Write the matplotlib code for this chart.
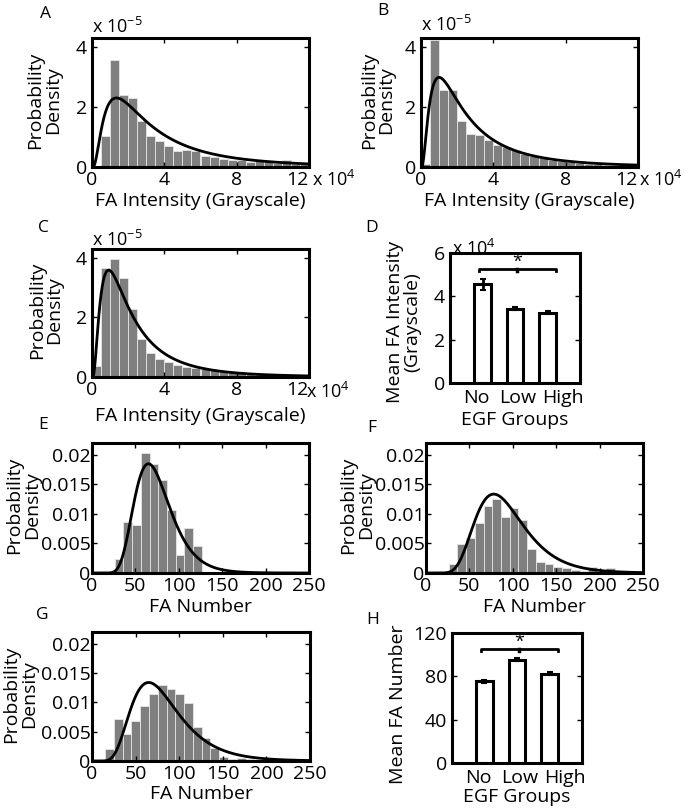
import numpy as np
import matplotlib
matplotlib.use('Agg')
import matplotlib.pyplot as plt
from matplotlib.transforms import ScaledTranslation

plt.rcParams['font.family'] = ['Open Sans', 'DejaVu Sans']
plt.rcParams['font.size'] = 14
plt.rcParams['mathtext.fontset'] = 'custom'
plt.rcParams['mathtext.rm'] = 'Open Sans'
plt.rcParams['mathtext.default'] = 'regular'

W, H = 685, 810

# FA intensity histograms: x in units of 1e4 grayscale, density in units of 1e-5
int_bin_start = 0.0
int_bin_width = 0.5
dens_a = [0, 1.02, 3.58, 2.41, 2.29, 1.53, 1.02, 0.86, 0.69, 0.55, 0.58, 0.52,
          0.38, 0.33, 0.28, 0.25, 0.22, 0.18, 0.25, 0.20, 0.14, 0.22, 0.11, 0.14]
dens_b = [0.10, 4.24, 2.56, 2.56, 1.53, 1.11, 1.06, 0.91, 0.74, 0.67, 0.56, 0.42,
          0.36, 0.30, 0.24, 0.20, 0.16, 0.13, 0.11, 0.09, 0.08, 0.07, 0.07, 0.06]
dens_c = [0.36, 3.66, 3.98, 3.32, 2.30, 1.29, 0.81, 0.59, 0.50, 0.40, 0.34, 0.30,
          0.26, 0.23, 0.19, 0.16, 0.14, 0.11, 0.10, 0.08, 0.07, 0.06, 0.05, 0.05]

# FA number histograms
num_bin_width = 10.07
num_start_e = 26.0
num_start_f = 26.0
num_start_g = 15.0
dens_e = [0.0023, 0.0086, 0.0082, 0.0203, 0.0185, 0.0158, 0.0106, 0.0030, 0.0077, 0.0045]
dens_f = [0.0015, 0.0049, 0.0059, 0.0084, 0.0114, 0.0125, 0.0094, 0.0110, 0.0090, 0.0040,
          0.0018, 0.0016, 0.0011, 0.0008, 0.0005, 0.0003, 0.0010, 0.0002, 0.0009]
dens_g = [0.0020, 0.0071, 0.0046, 0.0069, 0.0093, 0.0115, 0.0130, 0.0122, 0.0114, 0.0099,
          0.0058, 0.0039, 0.0022, 0.0006, 0.0004, 0.0005, 0.0003]

# lognormal fits (mu, sigma) in the plotted x units
fit_a = (1.066, 0.875)
fit_b = (0.801, 0.895)
fit_c = (0.631, 0.845)
fit_e = (4.274, 0.316)
fit_f = (4.486, 0.359)
fit_g = (4.350, 0.420)

# group means
egf_groups = ['No', 'Low', 'High']
mean_intensity = [4.55, 3.43, 3.25]   # x 1e4
sem_intensity = [0.25, 0.07, 0.07]
mean_number = [75.5, 95.5, 82.5]
sem_number = [1.5, 1.8, 1.5]

BAR_GRAY = '#7f7f7f'


def lognorm_pdf(x, mu, s):
    return np.exp(-(np.log(x) - mu) ** 2 / (2 * s ** 2)) / (x * s * np.sqrt(2 * np.pi))


fig = plt.figure(figsize=(W / 100, H / 100), dpi=100)


def px_axes(x0, y0, x1, y1):
    return fig.add_axes([x0 / W, 1 - y1 / H, (x1 - x0) / W, (y1 - y0) / H])


def style(ax, ypad=3.5):
    for sp in ax.spines.values():
        sp.set_linewidth(2.2)
    ax.tick_params(direction='in', top=True, right=True, length=3.5, width=1)
    ax.tick_params(axis='x', pad=3)
    ax.tick_params(axis='y', pad=ypad)


def fig_text(x, y, s, **kw):
    fig.text(x / W, 1 - y / H, s, **kw)


def intensity_panel(box, dens, fit, label_y, xlab_y):
    ax = px_axes(*box)
    edges = int_bin_start + int_bin_width * np.arange(len(dens) + 1)
    ax.bar(edges[:-1], dens, width=int_bin_width, align='edge', color=BAR_GRAY,
           edgecolor='#e6e6e6', linewidth=0.6)
    xs = np.linspace(0.001, 12, 600)
    ax.plot(xs, 10 * lognorm_pdf(xs, *fit), color='k', lw=2)
    ax.set_xlim(0, 12)
    ax.set_ylim(0, 4.3)
    ax.set_xticks([0, 4, 8, 12])
    ax.set_xticklabels(['0', '4', '8', '12'])
    ax.get_xticklabels()[-1].set_horizontalalignment('right')
    ax.set_yticks([0, 2, 4])
    style(ax)
    ax.set_ylabel('Probability\nDensity', linespacing=0.95, va='center')
    ax.yaxis.set_label_coords(label_y, 0.52)
    ax.set_xlabel('FA Intensity (Grayscale)', va='center')
    ax.xaxis.set_label_coords(0.5, xlab_y)
    return ax


def number_panel(box, start, dens, fit, label_y, xlab_y):
    ax = px_axes(*box)
    edges = start + num_bin_width * np.arange(len(dens) + 1)
    ax.bar(edges[:-1], dens, width=num_bin_width, align='edge', color=BAR_GRAY,
           edgecolor='#e6e6e6', linewidth=0.6)
    xs = np.linspace(1, 250, 600)
    ax.plot(xs, lognorm_pdf(xs, *fit), color='k', lw=2)
    ax.set_xlim(0, 250)
    ax.set_ylim(0, 0.022)
    ax.set_xticks([0, 50, 100, 150, 200, 250])
    ax.set_yticks([0, 0.005, 0.01, 0.015, 0.02])
    ax.set_yticklabels(['0', '0.005', '0.01', '0.015', '0.02'])
    style(ax, ypad=1)
    ax.set_ylabel('Probability\nDensity', linespacing=0.95, va='center')
    ax.yaxis.set_label_coords(label_y, 0.52)
    ax.set_xlabel('FA Number', va='center')
    ax.xaxis.set_label_coords(0.5, xlab_y)
    return ax


# tick labels under the group bars sit a little spread out
group_label_shift = [-0.06, 0.03, 0.15]   # inches


def group_panel(box, means, sems, ymax, yticks, ylab, label_y, label_yc, xlab_y):
    ax = px_axes(*box)
    pos = np.arange(1, len(means) + 1)
    ax.bar(pos, means, width=0.52, color='white', edgecolor='k', linewidth=2.2)
    ax.errorbar(pos, means, yerr=sems, fmt='none', ecolor='k', elinewidth=2, capsize=2,
                capthick=1.5)
    ax.set_xlim(0, len(means) + 1)
    ax.set_ylim(0, ymax)
    ax.set_yticks(yticks)
    ax.set_xticks(pos)
    ax.set_xticklabels(egf_groups)
    style(ax)
    ax.tick_params(axis='x', length=0, top=False, pad=4)
    for lab, dx in zip(ax.get_xticklabels(), group_label_shift):
        lab.set_transform(lab.get_transform() + ScaledTranslation(dx, 0, fig.dpi_scale_trans))
    # significance bracket
    left, right = pos[0] - 0.12, pos[-1] + 0.25
    mid = (left + right) / 2
    yb, drop = 0.88 * ymax, 0.02 * ymax
    ax.plot([left, left, right, right], [yb - drop, yb, yb, yb - drop], color='k', lw=2)
    ax.plot([mid, mid], [yb - drop, yb], color='k', lw=2.5)
    ax.text(mid, 0.935 * ymax, '*', ha='center', va='center', fontsize=13)
    ax.set_ylabel(ylab, linespacing=0.9, va='center')
    ax.yaxis.set_label_coords(label_y, label_yc)
    ax.set_xlabel('EGF Groups', va='center')
    ax.xaxis.set_label_coords(0.5, xlab_y)
    return ax


intensity_panel((92, 38, 309, 167), dens_a, fit_a, -0.221, -0.264)
intensity_panel((421, 38, 638, 167), dens_b, fit_b, -0.20, -0.264)
intensity_panel((92, 249, 309, 377), dens_c, fit_c, -0.214, -0.305)
group_panel((450, 253, 580, 383), mean_intensity, sem_intensity, 6, [0, 2, 4, 6],
            'Mean FA Intensity\n(Grayscale)', -0.357, 0.47, -0.285)
number_panel((92, 443, 309, 573), num_start_e, dens_e, fit_e, -0.318, -0.262)
number_panel((426, 443, 643, 573), num_start_f, dens_f, fit_f, -0.318, -0.262)
number_panel((92, 632, 310, 761), num_start_g, dens_g, fit_g, -0.33, -0.256)
group_panel((452, 633, 582, 763), mean_number, sem_number, 120, [0, 40, 80, 120],
            'Mean FA Number', -0.415, 0.45, -0.262)

# axis multipliers
mult_size = 13
fig_text(92, 27, r'x 10$^{-5}$', ha='left', va='center', fontsize=mult_size)
fig_text(421, 25, r'x 10$^{-5}$', ha='left', va='center', fontsize=mult_size)
fig_text(92, 240, r'x 10$^{-5}$', ha='left', va='center', fontsize=mult_size)
fig_text(452, 249, r'x 10$^{4}$', ha='left', va='center', fontsize=mult_size)
fig_text(312, 180, r'x 10$^{4}$', ha='left', va='center', fontsize=mult_size)
fig_text(639, 180, r'x 10$^{4}$', ha='left', va='center', fontsize=mult_size)
fig_text(306, 392, r'x 10$^{4}$', ha='left', va='center', fontsize=mult_size)

# panel letters
for letter, (x, y) in zip('ABCDEFGH', [(46, 14), (383, 11), (43, 228), (372, 228),
                                        (43, 425), (372, 428), (42, 615), (373, 620)]):
    fig_text(x, y, letter, ha='center', va='center', fontsize=12.5)

fig.savefig('out.png', dpi=100)
